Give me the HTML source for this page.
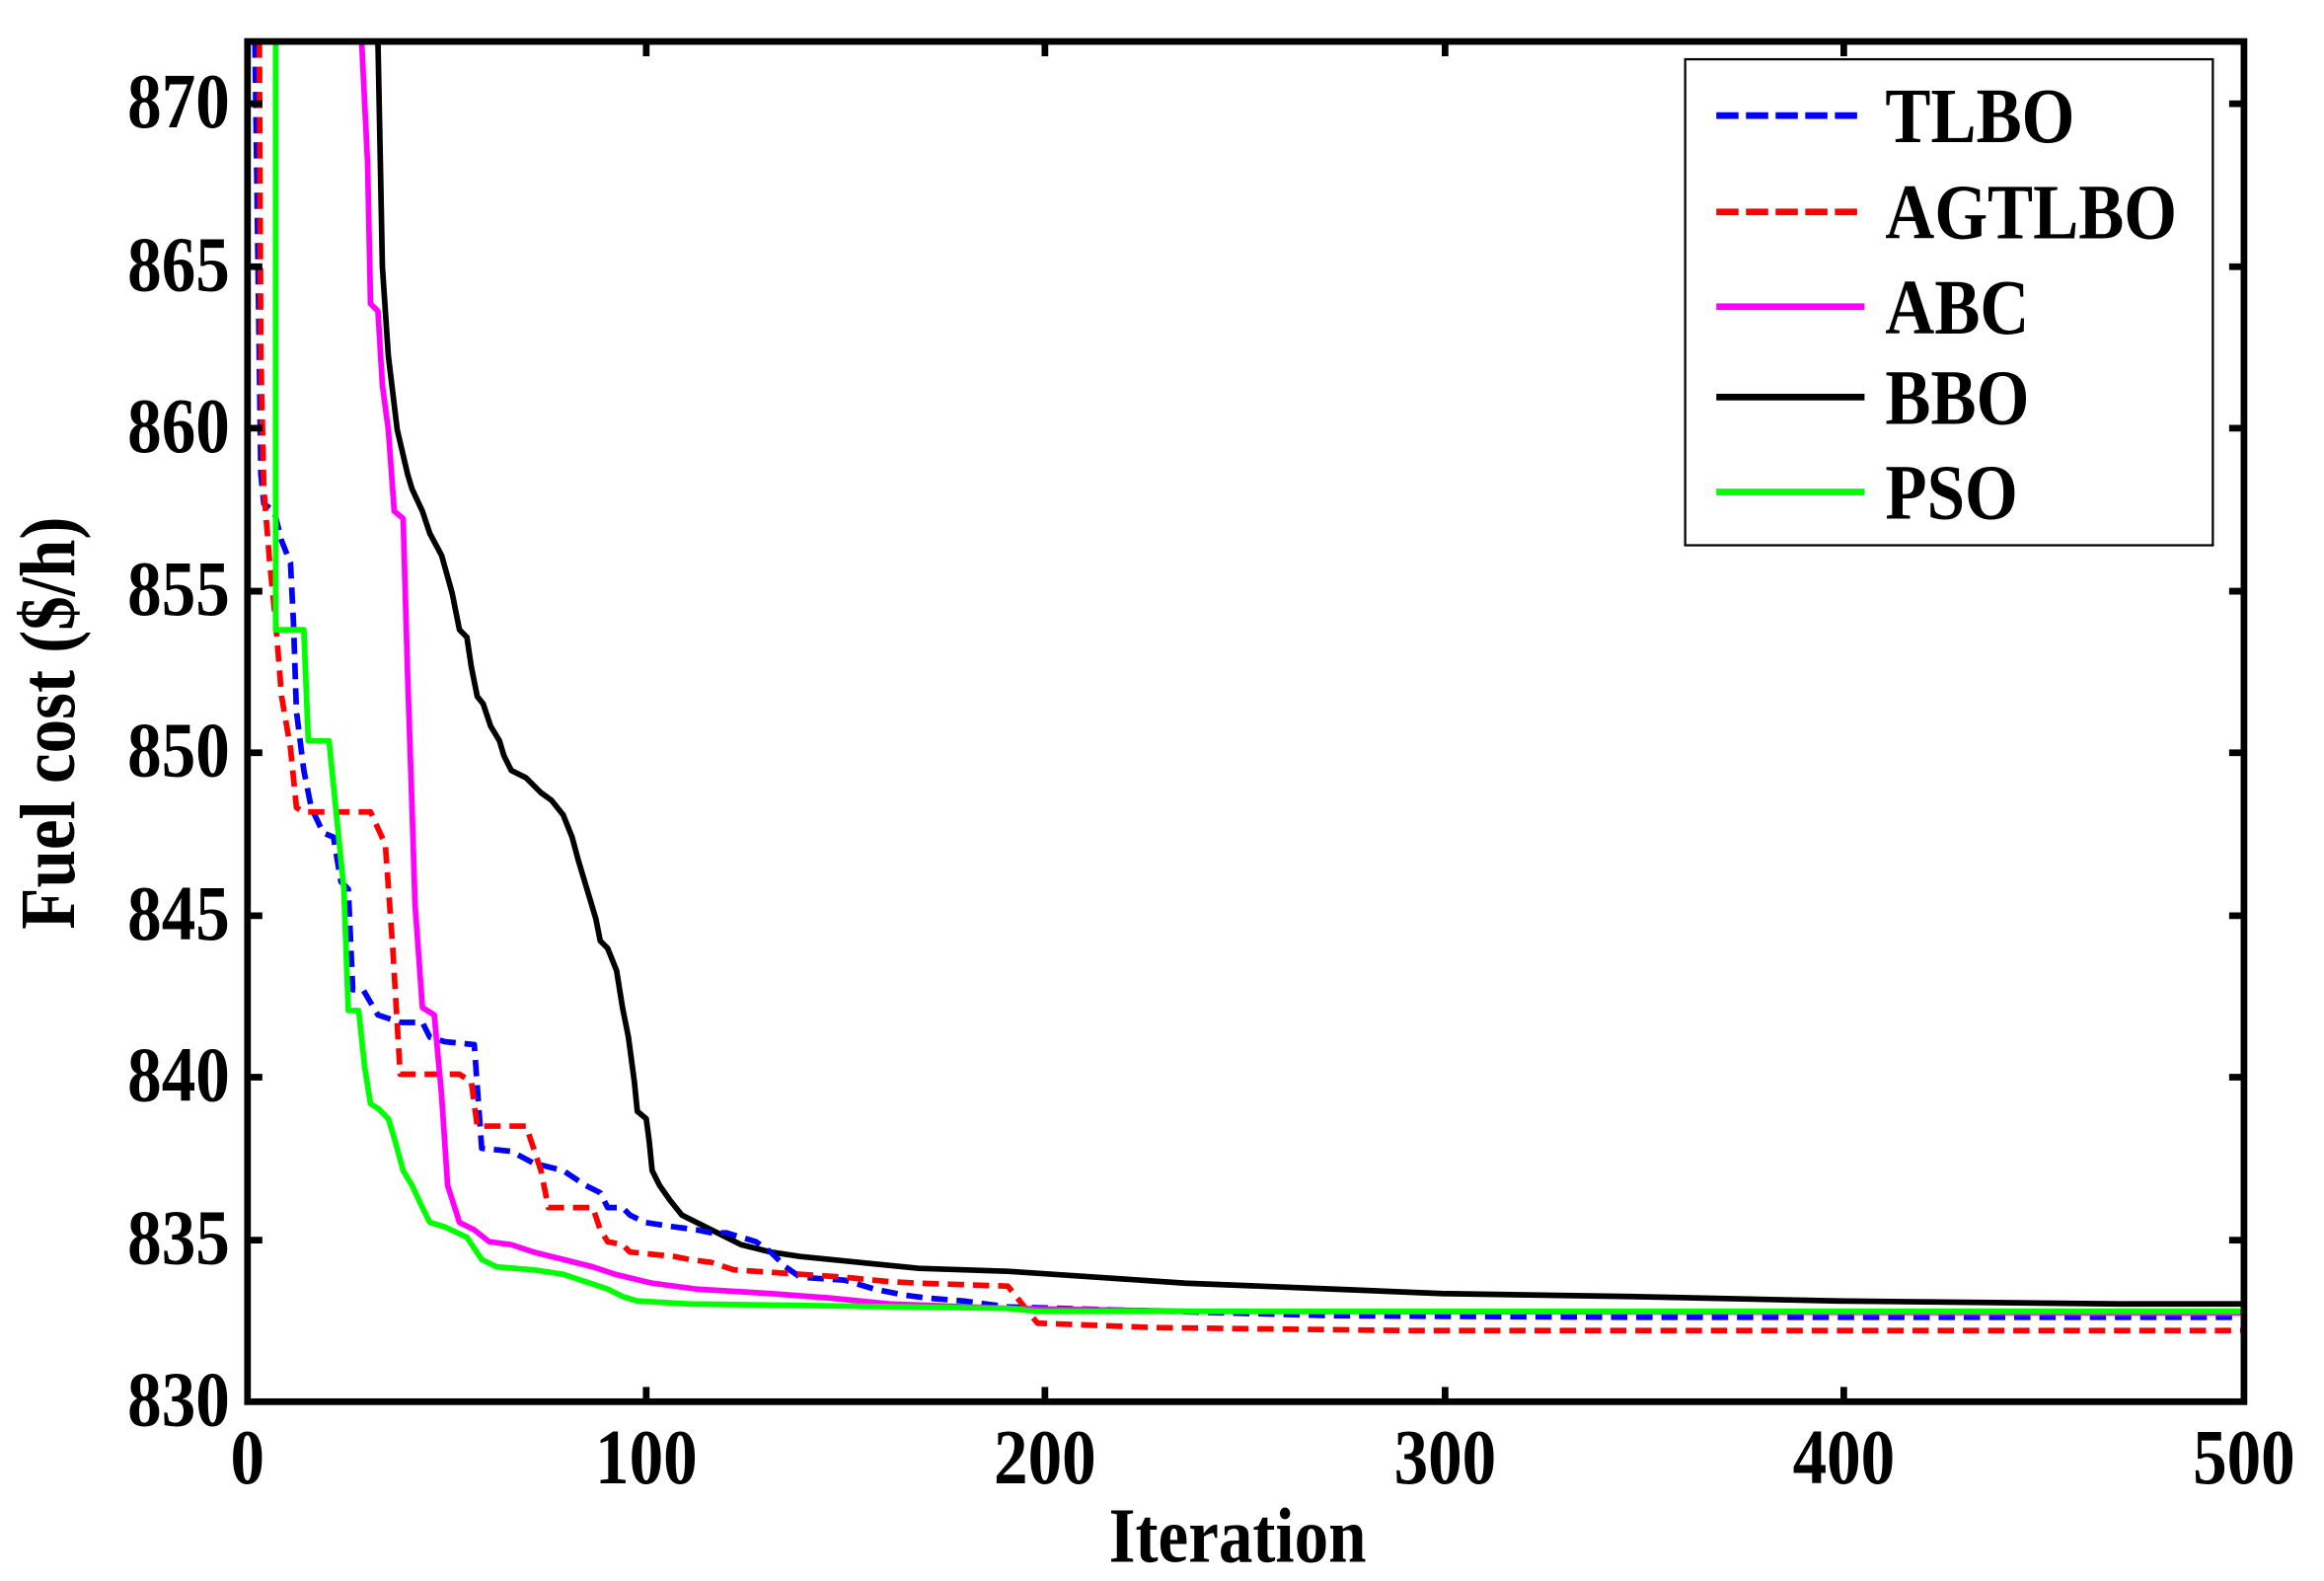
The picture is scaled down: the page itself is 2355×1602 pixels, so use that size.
<!DOCTYPE html>
<html><head><meta charset="utf-8"><style>html,body{margin:0;padding:0;background:#fff}svg{display:block}</style></head>
<body>
<svg width="2355" height="1602" viewBox="0 0 1568 1067" preserveAspectRatio="none" xmlns="http://www.w3.org/2000/svg" font-family="'Liberation Serif', serif" font-weight="bold">
<rect width="1568" height="1067" fill="#fff"/>
<g fill="none" stroke-width="3.8" stroke-linejoin="round">
<polyline stroke="#000" points="255,28 258,180 262,240 268,290 275,320 278,330 285,345 290,360 298,375 305,400 310,425 315,430 318,450 322,470 326,475 331,490 337,500 340,510 345,520 355,525 365,535 372,540 380,550 386,565 390,580 396,600 402,620 405,635 410,640 416,655 420,680 424,700 428,730 430,750 436,755 438,770 440,790 445,800 452,810 460,820 470,825 480,830 490,835 500,840 520,845 540,848 580,852 620,856 680,858 740,862 800,866 900,870 973,873 1100,875 1240,878 1430,880 1514,880"/>
<polyline stroke="#0000ff" stroke-dasharray="11,6" points="172,28 176,320 178,340 185,345 190,365 196,380 198,420 200,480 205,520 210,545 218,562 225,565 230,595 235,600 238,668 245,668 255,685 270,690 285,690 290,700 300,703 320,705 325,775 345,777 360,785 380,790 395,800 405,805 410,815 420,815 425,820 435,825 455,828 470,830 480,832 490,832 500,835 510,838 520,845 530,855 540,862 570,864 590,870 610,874 625,876 650,878 680,882 750,884 900,888 1100,889 1514,889"/>
<polyline stroke="#ff0000" stroke-dasharray="11,6" points="175,28 176,240 178,330 182,380 186,420 190,470 196,505 200,545 205,548 250,548 260,570 265,640 270,725 310,725 318,730 322,760 355,760 360,775 365,790 370,815 400,815 405,830 410,838 420,840 425,845 455,848 465,850 480,852 495,857 540,860 570,862 600,865 620,866 680,868 700,893 780,896 950,898 1514,898"/>
<polyline stroke="#ff00ff" points="244,28 248,110 250,205 255,210 258,260 262,290 266,345 272,350 275,455 278,545 280,610 285,680 293,685 298,740 302,800 310,825 320,830 330,838 345,840 360,845 380,850 400,855 415,860 440,866 470,870 520,873 560,876 600,880 680,883 800,885 1514,886"/>
<polyline stroke="#00ff00" points="186,28 186,425 205,425 208,500 222,500 226,540 232,600 235,682 242,682 246,720 250,745 255,748 262,755 266,768 272,790 278,800 285,815 290,825 300,828 315,835 325,850 335,855 360,857 380,860 395,865 410,870 420,875 430,878 465,880 680,883 700,885 1514,885"/>
</g>
<rect x="167" y="28" width="1347" height="918" fill="none" stroke="#000" stroke-width="4.5"/>
<g stroke="#000" stroke-width="4.5">
<path d="M167,70h10M167,180h10M167,289h10M167,399h10M167,508h10M167,618h10M167,727h10M167,837h10"/>
<path d="M1514,70h-10M1514,180h-10M1514,289h-10M1514,399h-10M1514,508h-10M1514,618h-10M1514,727h-10M1514,837h-10"/>
<path d="M436,946v-10M705,946v-10M975,946v-10M1244,946v-10"/>
<path d="M436,28v10M705,28v10M975,28v10M1244,28v10"/>
</g>
<g font-size="46" text-anchor="end">
<text transform="translate(155,86) scale(1,1.15)">870</text>
<text transform="translate(155,196) scale(1,1.15)">865</text>
<text transform="translate(155,305) scale(1,1.15)">860</text>
<text transform="translate(155,415) scale(1,1.15)">855</text>
<text transform="translate(155,524) scale(1,1.15)">850</text>
<text transform="translate(155,634) scale(1,1.15)">845</text>
<text transform="translate(155,743) scale(1,1.15)">840</text>
<text transform="translate(155,853) scale(1,1.15)">835</text>
<text transform="translate(155,962) scale(1,1.15)">830</text>
</g>
<g font-size="46" text-anchor="middle">
<text transform="translate(167,1001) scale(1,1.15)">0</text>
<text transform="translate(436,1001) scale(1,1.15)">100</text>
<text transform="translate(705,1001) scale(1,1.15)">200</text>
<text transform="translate(975,1001) scale(1,1.15)">300</text>
<text transform="translate(1244,1001) scale(1,1.15)">400</text>
<text transform="translate(1514,1001) scale(1,1.15)">500</text>
<text transform="translate(835,1054) scale(1,1.15)">Iteration</text>
<text transform="translate(50,488) rotate(-90) scale(1,1.15)">Fuel cost ($/h)</text>
</g>
<rect x="1137" y="40" width="356" height="328" fill="#fff" stroke="#000" stroke-width="1.5"/>
<g stroke-width="4.5">
<line x1="1158" y1="78" x2="1258" y2="78" stroke="#0000ff" stroke-dasharray="15,5"/>
<line x1="1158" y1="143" x2="1258" y2="143" stroke="#ff0000" stroke-dasharray="15,5"/>
<line x1="1158" y1="207" x2="1258" y2="207" stroke="#ff00ff"/>
<line x1="1158" y1="268" x2="1258" y2="268" stroke="#000"/>
<line x1="1158" y1="332" x2="1258" y2="332" stroke="#00ff00"/>
</g>
<g font-size="46">
<text transform="translate(1272,96) scale(1,1.15)">TLBO</text>
<text transform="translate(1272,161) scale(1,1.15)">AGTLBO</text>
<text transform="translate(1272,225) scale(1,1.15)">ABC</text>
<text transform="translate(1272,286) scale(1,1.15)">BBO</text>
<text transform="translate(1272,350) scale(1,1.15)">PSO</text>
</g>
</svg>
</body></html>
